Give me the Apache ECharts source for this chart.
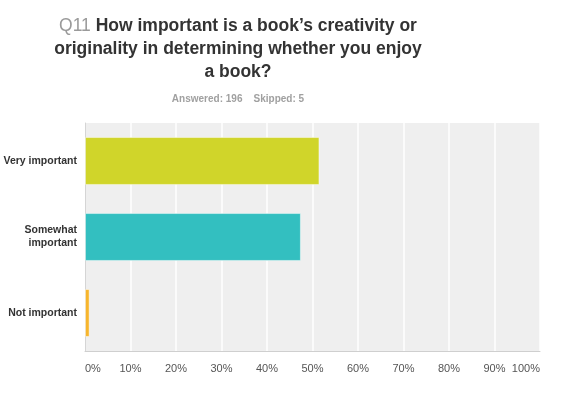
<!DOCTYPE html>
<html>
<head>
<meta charset="utf-8">
<script src="https://cdn.jsdelivr.net/npm/echarts@6/dist/echarts.min.js"></script>
<style>
  html, body { margin: 0; padding: 0; background: #fff; }
  #main { width: 565px; height: 397px; }
</style>
</head>
<body>
<div id="main"></div>
<script>
// answer choices, top to bottom
var categories = ['Very important', 'Somewhat\nimportant', 'Not important'];
var percents = [51.53, 47.45, 1.02];
var barColors = ['#d0d52a', '#33bfc0', '#f7b52c'];
var tickLabels = ['0%', '10%', '20%', '30%', '40%', '50%', '60%', '70%', '80%', '90%', '100%'];

var dom = document.getElementById('main');
var myChart = echarts.init(dom);

var option = {
  animation: false,
  textStyle: {
    fontFamily: ['Liberation Sans', 'Arial'],
  },
  title: {
    left: 233,
    top: 10,
    textAlign: 'center',
    text: '{q|Q11} How important is a book\u2019s creativity or\noriginality in determining whether you enjoy\na book?',
    textStyle: {
      fontSize: 17.5,
      fontWeight: 'bold',
      color: '#333',
      lineHeight: 23,
      rich: {
        q: {
          color: '#9a9a9a',
          fontSize: 17.5,
          fontWeight: 'normal',
        },
      },
    },
    subtext: 'Answered: 196    Skipped: 5',
    subtextStyle: {
      fontSize: 10,
      fontWeight: 'bold',
      color: '#a0a0a0',
    },
    itemGap: 10,
  },
  grid: {
    left: 85,
    right: 25,
    top: 123,
    bottom: 46,
    outerBoundsMode: 'none',
    show: true,
    backgroundColor: '#efefef',
    borderWidth: 0,
  },
  xAxis: {
    type: 'value',
    min: 0,
    max: 100,
    interval: 10,
    axisLine: {
      show: true,
      lineStyle: { color: '#cfcfcf', width: 1 },
    },
    axisTick: { show: false },
    splitLine: {
      show: true,
      lineStyle: { color: '#ffffff', width: 1.5 },
    },
    axisLabel: {
      margin: 12,
      fontSize: 11,
      color: '#555',
      alignMinLabel: 'left',
      alignMaxLabel: 'right',
      formatter: function (v) {
        return tickLabels[Math.round(v / 10)];
      },
    },
  },
  yAxis: {
    type: 'category',
    inverse: true,
    data: categories,
    axisLine: {
      show: true,
      lineStyle: { color: '#d5d5d5' },
    },
    axisTick: { show: false },
    axisLabel: {
      margin: 8,
      fontSize: 10.5,
      fontWeight: 'bold',
      color: '#333',
      lineHeight: 13,
      align: 'right',
    },
  },
  series: [
    {
      type: 'bar',
      barCategoryGap: '37%',
      data: percents.map(function (v, i) {
        return {
          value: v,
          itemStyle: {
            color: barColors[i],
            borderColor: 'rgba(255,255,255,0.45)',
            borderWidth: 1,
          },
        };
      }),
    },
  ],
};

if (option && typeof option === "object") {
  myChart.setOption(option, true);
}
</script>
</body>
</html>
